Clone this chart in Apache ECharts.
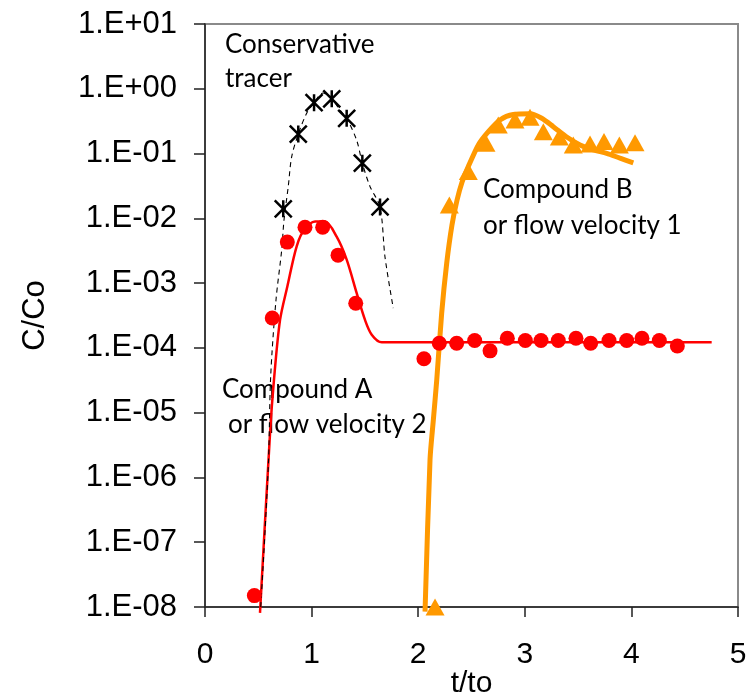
<!DOCTYPE html>
<html>
<head>
<meta charset="utf-8">
<script src="https://cdn.jsdelivr.net/npm/echarts@6/dist/echarts.min.js"></script>
<style>
  html, body { margin: 0; padding: 0; background: #fff; }
  #main { width: 756px; height: 697px; }
</style>
</head>
<body>
<div id="main"></div>
<script>
// tick labels
var xTicks = [0, 1, 2, 3, 4, 5];

// conservative tracer: measured points and fitted (dashed) curve  [t/to, C/Co]
var tracerMarks = [[0.734, 1.4e-2], [0.875, 0.20], [1.023, 0.61], [1.189, 0.70], [1.329, 0.35], [1.476, 0.071], [1.642, 0.015]];
var tracerCurve = [[0.523, 1e-8], [0.594, 1.5e-6], [0.616, 3.6e-5], [0.666, 5.5e-4], [0.720, 3.3e-3], [0.741, 9.4e-3],
  [0.781, 3.1e-2], [0.813, 8.9e-2], [0.875, 0.20], [0.954, 0.42], [1.023, 0.61], [1.107, 0.86], [1.189, 0.70],
  [1.266, 0.47], [1.329, 0.35], [1.423, 0.16], [1.476, 0.071], [1.548, 0.031], [1.642, 0.015], [1.689, 2.5e-3], [1.766, 4.1e-4]];

// compound A (flow velocity 2)
var compAMarks = [[0.463, 1.5e-8], [0.631, 2.9e-4], [0.772, 4.3e-3], [0.938, 7.3e-3], [1.104, 7.3e-3], [1.248, 2.7e-3],
  [1.414, 4.9e-4], [2.054, 6.8e-5], [2.198, 1.18e-4], [2.361, 1.18e-4], [2.530, 1.3e-4], [2.674, 9.0e-5],
  [2.836, 1.41e-4], [3.005, 1.3e-4], [3.152, 1.3e-4], [3.314, 1.3e-4], [3.480, 1.41e-4], [3.618, 1.18e-4],
  [3.790, 1.3e-4], [3.956, 1.3e-4], [4.099, 1.41e-4], [4.262, 1.3e-4], [4.431, 1.07e-4]];
var compACurve = [[0.516, 8.1e-9], [0.610, 4.8e-6], [0.647, 3.2e-5], [0.704, 2.7e-4], [0.772, 8.8e-4], [0.860, 3.7e-3],
  [0.938, 7.0e-3], [1.032, 8.9e-3], [1.126, 8.9e-3], [1.235, 5.2e-3], [1.329, 2.3e-3], [1.423, 7.0e-4],
  [1.501, 2.7e-4], [1.564, 1.6e-4], [1.658, 1.22e-4], [4.753, 1.22e-4]];

// compound B (flow velocity 1)
var compBMarks = [[2.158, 1.0e-8], [2.292, 0.016], [2.470, 0.053], [2.636, 0.144], [2.751, 0.276], [2.908, 0.33],
  [3.049, 0.363], [3.174, 0.218], [3.324, 0.18], [3.455, 0.136], [3.612, 0.14], [3.743, 0.153], [3.887, 0.136], [4.034, 0.147]];
var compBCurve = [[2.064, 8.5e-9], [2.111, 1.9e-6], [2.142, 7.7e-6], [2.174, 3.2e-5], [2.220, 3.4e-4], [2.267, 2.0e-3],
  [2.317, 7.9e-3], [2.364, 0.019], [2.411, 0.036], [2.470, 0.063], [2.564, 0.136], [2.658, 0.218], [2.767, 0.33],
  [2.892, 0.40], [3.049, 0.41], [3.159, 0.35], [3.267, 0.26], [3.393, 0.18], [3.518, 0.136], [3.643, 0.114],
  [3.768, 0.101], [3.893, 0.085], [4.018, 0.072]];

var myChart = echarts.init(document.getElementById('main'));

function sciLabel(v) {
  var e = Math.round(Math.log10(v));
  var s = e < 0 ? '-' : '+';
  var a = Math.abs(e);
  return '1.E' + s + (a < 10 ? '0' + a : a);
}

var noteFont = 'Lato, "Open Sans", sans-serif';
var axisFont = '"Liberation Sans", Arial, sans-serif';

var option = {
  animation: false,
  backgroundColor: '#fff',
  grid: {
    left: 205, right: 18, top: 24, bottom: 90,
    containLabel: false,
    outerBoundsMode: 'none',
    show: true,
    borderColor: '#8a8a8a',
    borderWidth: 2
  },
  xAxis: {
    type: 'value',
    min: 0, max: 5, interval: 1,
    name: 't/to',
    nameLocation: 'middle',
    nameGap: 62,
    nameMoveOverlap: false,
    nameTextStyle: { fontSize: 30, fontFamily: axisFont, color: '#000' },
    axisLine: { lineStyle: { color: '#222', width: 1.5 } },
    axisTick: { show: true, length: 10, lineStyle: { color: '#222', width: 1.5 } },
    axisLabel: {
      fontSize: 30, fontFamily: axisFont, color: '#000', margin: 33,
      formatter: function (v) { return xTicks.indexOf(v) >= 0 ? String(v) : ''; }
    },
    splitLine: { show: false }
  },
  yAxis: {
    type: 'log',
    logBase: 10,
    min: 1e-8, max: 10,
    name: 'C/Co',
    nameLocation: 'middle',
    nameGap: 154,
    nameMoveOverlap: false,
    nameTextStyle: { fontSize: 31, fontFamily: axisFont, color: '#000' },
    axisLine: { show: true, lineStyle: { color: '#222', width: 1.5 } },
    axisTick: { show: true, length: 11, lineStyle: { color: '#222', width: 1.5 } },
    axisLabel: { fontSize: 31, fontFamily: axisFont, color: '#000', margin: 28, formatter: sciLabel },
    minorTick: { show: false },
    splitLine: { show: false }
  },
  series: [
    {
      name: 'compB fit', type: 'line', data: compBCurve, smooth: 0.25, clip: false,
      symbol: 'none', z: 2,
      lineStyle: { color: '#FF9900', width: 5 }
    },
    {
      name: 'compA fit', type: 'line', data: compACurve, smooth: 0.3, clip: false,
      symbol: 'none', z: 3,
      lineStyle: { color: '#FF0000', width: 2.5 }
    },
    {
      name: 'tracer fit', type: 'line', data: tracerCurve, smooth: 0.3,
      symbol: 'none', z: 4,
      lineStyle: { color: '#000', width: 1.1, type: [5, 4] }
    },
    {
      name: 'Compound B', type: 'scatter', data: compBMarks, z: 5,
      symbol: 'triangle', symbolSize: [19, 17],
      itemStyle: { color: '#FF9900', opacity: 1 }
    },
    {
      name: 'Compound A', type: 'scatter', data: compAMarks, z: 6,
      symbol: 'circle', symbolSize: 15,
      itemStyle: { color: '#FF0000', opacity: 1 }
    },
    {
      name: 'Conservative tracer', type: 'scatter', data: tracerMarks, z: 7,
      symbol: 'path://M0 0L10 10M10 0L0 10M5 0L5 10', symbolSize: 17,
      itemStyle: { color: 'transparent', borderColor: '#000', borderWidth: 2.5, opacity: 1 }
    }
  ],
  graphic: [
    { type: 'text', left: 225, top: 32, style: { text: 'Conservative', font: '26px ' + noteFont, fill: '#000' } },
    { type: 'text', left: 225, top: 66, style: { text: 'tracer', font: '26px ' + noteFont, fill: '#000' } },
    { type: 'text', left: 483, top: 177, style: { text: 'Compound B', font: '26px ' + noteFont, fill: '#000' } },
    { type: 'text', left: 483, top: 213, style: { text: 'or flow velocity 1', font: '26px ' + noteFont, fill: '#000' } },
    { type: 'text', left: 222, top: 377, style: { text: 'Compound A', font: '26px ' + noteFont, fill: '#000' } },
    { type: 'text', left: 228, top: 412, style: { text: 'or flow velocity 2', font: '26px ' + noteFont, fill: '#000' } }
  ]
};

myChart.setOption(option);
window.addEventListener('resize', function () {
  myChart.resize();
});
</script>
</body>
</html>
